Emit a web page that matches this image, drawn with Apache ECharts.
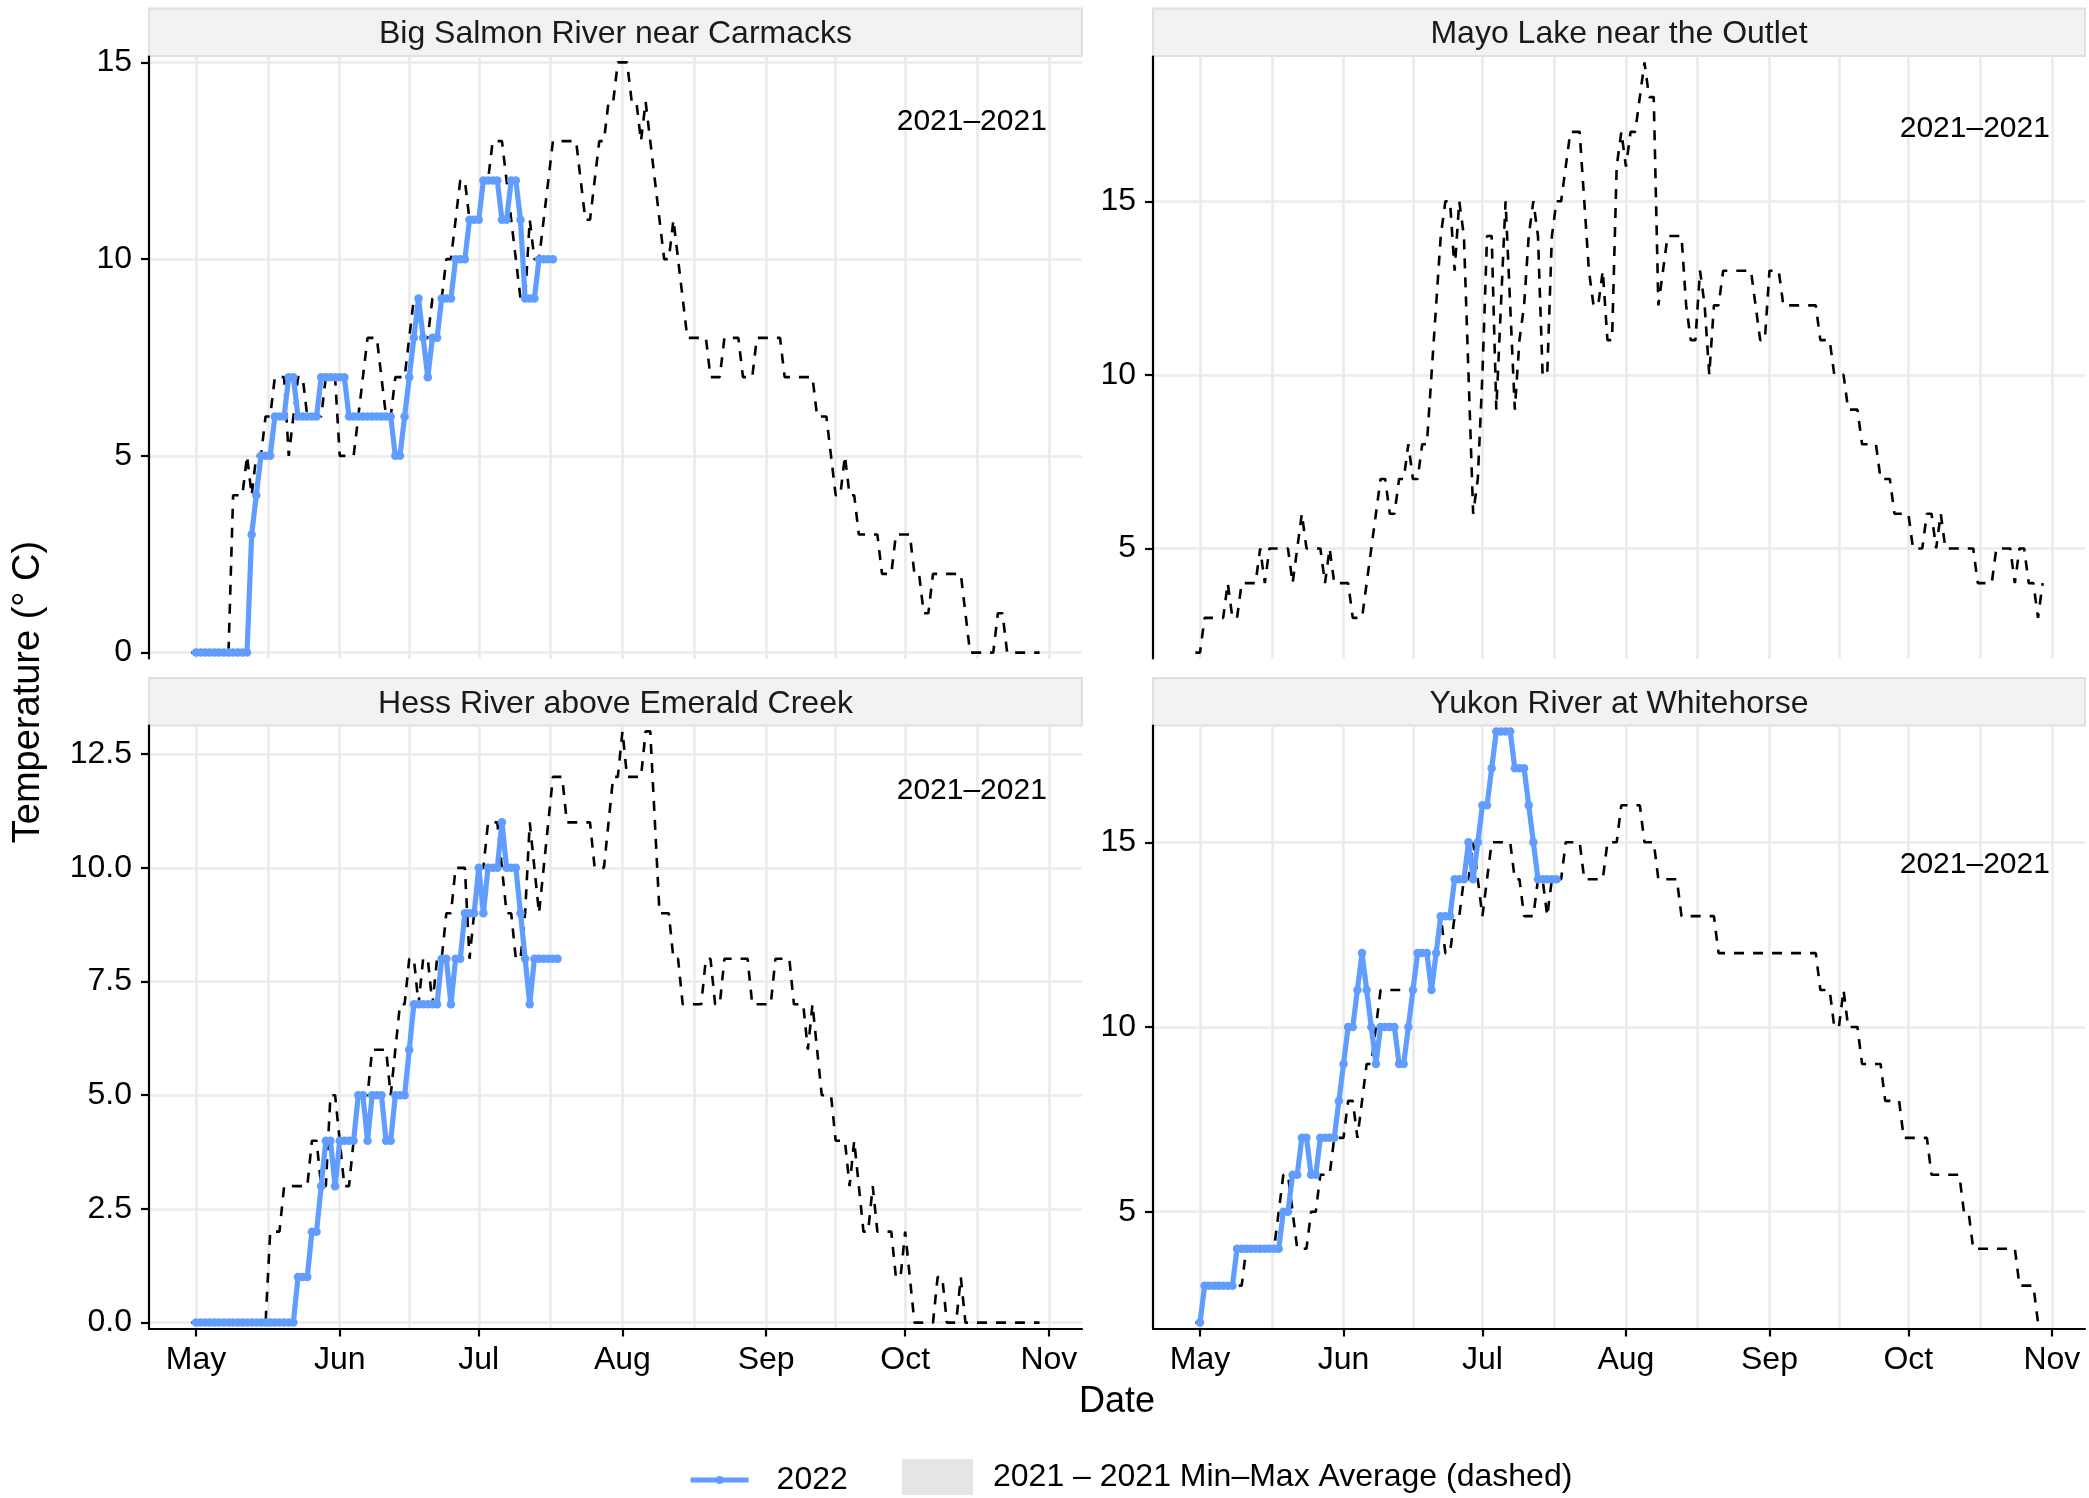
<!DOCTYPE html>
<html>
<head>
<meta charset="utf-8">
<script src="https://cdn.jsdelivr.net/npm/echarts@6/dist/echarts.min.js"></script>
<style>
html,body{margin:0;padding:0;background:#ffffff;}
#chart{width:2089px;height:1498px;}
</style>
</head>
<body>
<div id="chart"></div>
<script>
// ---------------- data ----------------
const panelTitles = ['Big Salmon River near Carmacks', 'Mayo Lake near the Outlet', 'Hess River above Emerald Creek', 'Yukon River at Whitehorse'];
const monthLabels = ['May', 'Jun', 'Jul', 'Aug', 'Sep', 'Oct', 'Nov'];
const name2022 = '2022';
const nameAvg = '2021 \u2013 2021 Min\u2013Max Average (dashed)';
const rangeLabel = '2021\u20132021';
const start2022 = [2022, 4, 1];   // first daily value of the 2022 series (May 1)
const startAvg = [2022, 3, 30];   // first daily value of the average series (Apr 30)

// daily values, 2022 (from May 1)
const bigSalmon2022 = [
  0,0,0,0,0,0,0,0,0,0,0,0,
  3,4,5,5,5,6,6,6,7,7,
  6,6,6,6,6,
  7,7,7,7,7,7,
  6,6,6,6,6,6,6,6,6,6,
  5,5,6,7,8,9,8,7,8,8,
  9,9,9,10,10,10,11,11,11,
  12,12,12,12,11,11,12,12,11,
  9,9,9,10,10,10,10
];
const mayo2022 = [];
const hess2022 = [
  0,0,0,0,0,0,0,0,0,0,0,0,0,0,0,0,0,0,0,0,0,0,
  1,1,1,2,2,3,4,4,3,
  4,4,4,4,5,5,4,5,5,5,4,4,5,5,5,6,
  7,7,7,7,7,7,8,8,7,8,8,
  9,9,9,10,9,10,10,10,11,10,10,10,9,8,7,
  8,8,8,8,8,8
];
const yukon2022 = [
  2,3,3,3,3,3,3,3,
  4,4,4,4,4,4,4,4,4,4,
  5,5,6,6,7,7,6,6,7,7,7,7,
  8,9,10,10,11,12,11,10,9,10,10,10,10,9,9,10,11,
  12,12,12,11,12,13,13,13,14,14,14,15,14,15,16,16,17,
  18,18,18,18,17,17,17,16,15,
  14,14,14,14,14
];

// daily values, 2021 min-max average (from Apr 30)
const bigSalmonAvg = [
  0,0,0,0,0,0,0,0,0,
  4,4,4,5,4,5,5,6,6,7,7,7,5,6,7,7,
  6,6,6,6,7,7,7,5,5,5,5,6,7,8,8,8,7,6,6,
  7,7,7,8,9,9,8,8,9,9,9,10,10,11,12,12,
  11,11,11,12,12,13,13,13,12,11,10,9,9,11,10,10,11,12,
  13,13,13,13,13,13,12,11,11,12,13,13,14,14,15,15,15,
  14,14,13,14,13,12,11,10,10,11,10,9,
  8,8,8,8,8,7,7,7,8,8,8,8,7,7,7,
  8,8,8,8,8,8,7,7,7,7,7,7,7,
  6,6,6,5,4,4,5,4,4,3,3,3,3,3,2,2,2,3,3,3,3,
  2,2,1,1,2,2,2,2,2,2,2,1,
  0,0,0,0,0,0,1,1,0,0,0,0,0,0,0,0
];
const mayoAvg = [
  2,2,3,3,3,3,3,4,3,3,4,4,4,4,5,4,5,5,5,5,5,4,5,6,
  5,5,5,5,4,5,4,4,4,4,3,3,3,4,5,6,7,7,6,6,7,7,8,7,7,8,8,
  10,12,14,15,15,13,15,14,10,6,7,10,14,14,9,12,15,12,9,11,12,14,15,14,10,10,14,15,15,16,
  17,17,17,15,13,12,12,13,11,11,16,17,16,17,17,18,19,18,18,12,13,14,14,14,14,12,11,11,13,12,10,12,12,
  13,13,13,13,13,13,13,12,11,11,13,13,13,
  12,12,12,12,12,12,12,12,11,11,11,10,10,10,9,9,9,8,8,8,8,7,7,7,6,6,6,6,
  5,5,5,6,6,5,6,5,5,5,5,5,5,5,4,4,4,4,5,5,5,5,4,5,5,4,4,3,4
];
const hessAvg = [
  0,0,0,0,0,0,0,0,0,0,0,0,0,0,0,0,0,
  2,2,2,3,3,3,3,3,3,4,4,3,3,5,5,4,3,3,4,5,5,5,6,6,6,6,5,6,7,7,8,8,7,8,8,7,8,8,
  9,9,10,10,10,8,9,10,10,11,11,11,10,9,9,8,8,9,11,10,9,10,11,12,12,12,
  11,11,11,11,11,11,10,10,10,11,12,12,13,12,12,12,12,13,13,11,9,9,9,8,8,
  7,7,7,7,7,8,8,7,7,8,8,8,8,8,8,7,7,7,7,7,8,8,8,8,7,7,7,6,7,6,
  5,5,5,4,4,4,3,4,3,2,2,3,2,2,2,2,1,1,2,1,0,0,0,0,0,1,1,0,0,0,1,
  0,0,0,0,0,0,0,0,0,0,0,0,0,0,0,0,0
];
const yukonAvg = [
  2,2,3,3,3,3,3,3,3,3,3,4,4,4,4,4,4,4,5,6,6,5,4,4,4,5,5,6,6,6,7,7,7,8,8,7,8,9,9,10,
  11,11,11,11,11,11,11,11,12,12,12,11,12,13,12,12,13,13,14,14,15,14,13,14,15,15,15,15,15,
  14,14,13,13,13,14,14,13,14,14,14,15,15,15,15,14,14,14,14,14,15,15,15,16,16,16,16,16,
  15,15,15,14,14,14,14,14,13,13,13,13,13,13,13,13,
  12,12,12,12,12,12,12,12,12,12,12,12,12,12,12,12,12,12,12,12,12,12,
  11,11,11,10,10,11,10,10,10,9,9,9,9,9,8,8,8,8,7,7,7,7,7,7,6,6,6,6,6,6,6,5,5,
  4,4,4,4,4,4,4,4,4,4,3,3,3,3,2,2
];

const yTicks = [[0, 5, 10, 15], [5, 10, 15], [0, 2.5, 5, 7.5, 10, 12.5], [5, 10, 15]];
const yLimits = [[-0.15, 15.15], [1.83, 19.17], [-0.13, 13.13], [1.84, 18.16]];

// ---------------- helpers ----------------
const DAY = 86400000;
function toPoints(start, values) {
  const t0 = Date.UTC(start[0], start[1], start[2]);
  return values.map((v, i) => [t0 + i * DAY, v]);
}
const series2022 = [bigSalmon2022, mayo2022, hess2022, yukon2022];
const seriesAvg = [bigSalmonAvg, mayoAvg, hessAvg, yukonAvg];

const may1 = Date.UTC(2022, 4, 1);
const xMin = may1 - 10.15 * DAY;
const xMax = may1 + 191.15 * DAY;
const majors = monthLabels.map((m, i) => Date.UTC(2022, 4 + i, 1));
const minors = majors.slice(1).map((v, i) => (v + majors[i]) / 2);
function monthName(v) {
  const d = new Date(Math.round(v));
  const idx = d.getUTCMonth() - 4;
  return monthLabels[idx] || '';
}

// ---------------- layout ----------------
const colLeft = [149, 1153];
const colWidth = [933, 932];
const rowTop = [56.5, 725.5];
const rowHeight = [602, 603];
const stripTop = [8.5, 678];
const stripH = 47.5;
const FONT = 'Liberation Sans, Arial, Helvetica, sans-serif';
const gridColor = '#EBEBEB';
const blue = '#619CFF';

const grids = [], xAxes = [], yAxes = [], series = [], graphics = [];
for (let i = 0; i < 4; i++) {
  const col = i % 2, row = Math.floor(i / 2);
  const bottom = row === 1;
  grids.push({left: colLeft[col], top: rowTop[row], width: colWidth[col], height: rowHeight[row], containLabel: false, outerBoundsMode: 'none'});
  // main x axis (dates as UTC timestamps on a linear scale): major grid lines, ticks and labels
  xAxes.push({
    type: 'value', gridIndex: i, min: xMin, max: xMax, position: 'bottom', scale: true,
    axisLine: {show: bottom, onZero: false, lineStyle: {color: '#000', width: 2.2}},
    axisTick: {show: bottom, customValues: majors, length: 8, lineStyle: {color: '#000', width: 2.2}},
    axisLabel: {show: bottom, customValues: majors, fontSize: 32, fontFamily: FONT, color: '#000', margin: 16,
      hideOverlap: false, formatter: monthName},
    splitLine: {show: true, lineStyle: {color: gridColor, width: 2.7}}
  });
  // helper x axis: minor (mid-month) grid lines only
  xAxes.push({
    type: 'value', gridIndex: i, min: xMin, max: xMax, position: 'bottom', scale: true,
    axisLine: {show: false}, axisLabel: {show: false},
    axisTick: {show: false, customValues: minors},
    splitLine: {show: true, lineStyle: {color: gridColor, width: 2.7}}
  });
  yAxes.push({
    type: 'value', gridIndex: i, min: yLimits[i][0], max: yLimits[i][1],
    axisLine: {show: true, onZero: false, lineStyle: {color: '#000', width: 2.2}},
    axisTick: {show: true, customValues: yTicks[i], length: 8, lineStyle: {color: '#000', width: 2.2}},
    axisLabel: {customValues: yTicks[i], fontSize: 32, fontFamily: FONT, color: '#000', margin: 17,
      formatter: i === 2 ? (v => Number(v).toFixed(1)) : (v => String(v))},
    splitLine: {show: true, lineStyle: {color: gridColor, width: 2.7}}
  });
  const avgMax = Math.max.apply(null, seriesAvg[i]);
  series.push({
    name: nameAvg, type: 'line', xAxisIndex: 2 * i, yAxisIndex: i, z: 3,
    data: toPoints(startAvg, seriesAvg[i]), symbol: 'none', showSymbol: false,
    lineStyle: {color: '#000', width: 2.6, type: [10, 9]}, itemStyle: {color: '#000'},
    silent: true, animation: false,
    markPoint: {
      silent: true, symbol: 'circle', symbolSize: 0, itemStyle: {color: 'rgba(0,0,0,0)'},
      label: {show: true, position: 'left', distance: 2, formatter: rangeLabel, fontSize: 30, fontFamily: FONT, color: '#000'},
      data: [{coord: [majors[6], 0.9 * avgMax]}]
    }
  });
  series.push({
    name: name2022, type: 'line', xAxisIndex: 2 * i, yAxisIndex: i, z: 4,
    data: toPoints(start2022, series2022[i]), symbol: 'circle', symbolSize: 8.5, showSymbol: true, showAllSymbol: true,
    lineStyle: {color: blue, width: 5.2}, itemStyle: {color: blue},
    silent: true, animation: false
  });
  // facet strip
  graphics.push({type: 'rect', x: colLeft[col], y: stripTop[row], silent: true,
    shape: {x: 0, y: 0, width: colWidth[col], height: stripH},
    style: {fill: '#F2F2F2', stroke: '#E0E0E0', lineWidth: 2}});
  graphics.push({type: 'text', x: colLeft[col] + colWidth[col] / 2, y: stripTop[row] + stripH / 2 + 2, silent: true,
    style: {text: panelTitles[i], fontSize: 32, fontFamily: FONT, fill: '#1A1A1A', textAlign: 'center', textVerticalAlign: 'middle'}});
}
graphics.push({type: 'text', x: 1117, y: 1402, silent: true,
  style: {text: 'Date', fontSize: 36, fontFamily: FONT, fill: '#000', textAlign: 'center', textVerticalAlign: 'middle'}});
graphics.push({type: 'text', x: 29, y: 692, rotation: Math.PI / 2, silent: true,
  style: {text: 'Temperature (\u00B0 C)', fontSize: 38, fontFamily: FONT, fill: '#000', textAlign: 'center', textVerticalAlign: 'middle'}});

const option = {
  backgroundColor: '#ffffff',
  animation: false,
  textStyle: {fontFamily: FONT},
  grid: grids,
  xAxis: xAxes,
  yAxis: yAxes,
  series: series,
  legend: [
    {data: [name2022], left: 688, top: 1464, padding: 0, itemWidth: 58, itemHeight: 10, selectedMode: false,
      lineStyle: {width: 5.2}, itemStyle: {color: blue},
      textStyle: {fontSize: 32, fontFamily: FONT, color: '#000', padding: [0, 0, 0, 23]}},
    {data: [{name: nameAvg, icon: 'rect', itemStyle: {color: '#E5E5E5', borderWidth: 0}}], left: 902, top: 1459, padding: 0,
      itemWidth: 71, itemHeight: 36, selectedMode: false,
      textStyle: {fontSize: 32, fontFamily: FONT, color: '#000', padding: [0, 0, 0, 15]}}
  ],
  graphic: graphics
};
const chart = echarts.init(document.getElementById('chart'), null, {renderer: 'canvas'});
chart.setOption(option);
</script>
</body>
</html>
